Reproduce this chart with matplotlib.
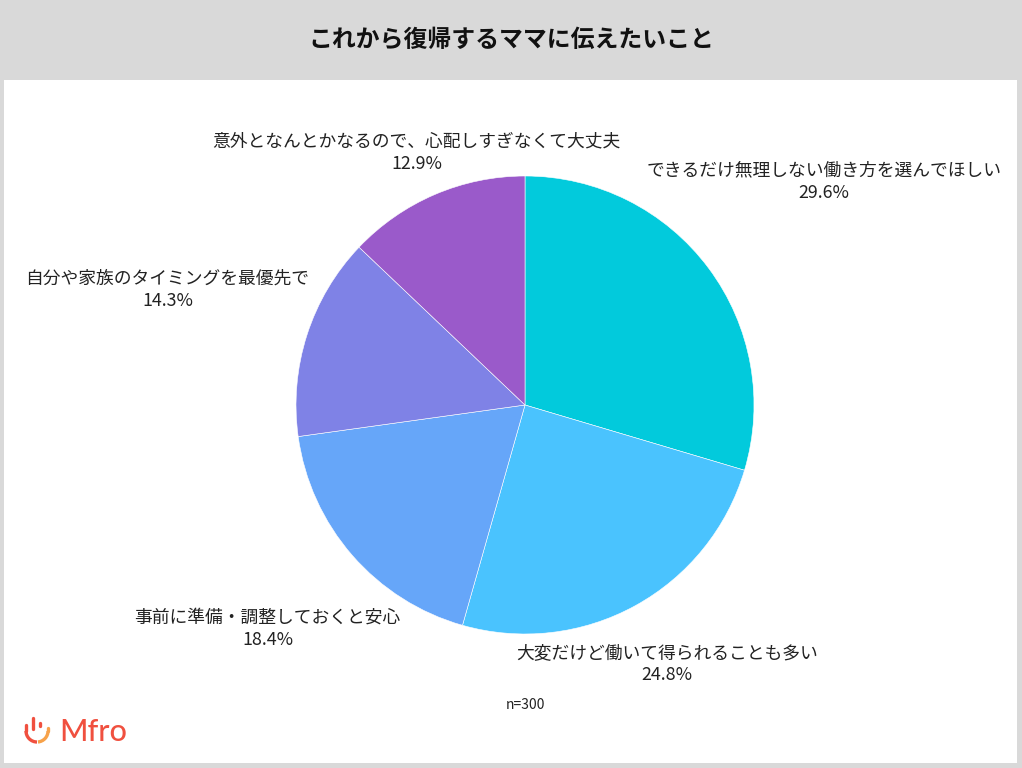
import numpy as np
import matplotlib
matplotlib.use('Agg')
import matplotlib.pyplot as plt
from matplotlib.patches import Rectangle, Arc

plt.rcParams['font.family'] = ['Noto Sans CJK JP', 'DejaVu Sans']

title = 'これから復帰するママに伝えたいこと'
labels = [
    'できるだけ無理しない働き方を選んでほしい',
    '大変だけど働いて得られることも多い',
    '事前に準備・調整しておくと安心',
    '自分や家族のタイミングを最優先で',
    '意外となんとかなるので、心配しすぎなくて大丈夫',
]
shares = [29.6, 24.8, 18.4, 14.3, 12.9]
colors = ['#02CADC', '#4AC3FE', '#66A6F9', '#7F82E6', '#9A5ACA']
n_note = 'n=300'

# label distance from centre, in pie radii (layout only)
label_dist = [1.63, 1.29, 1.49, 1.64, 1.20]

W, H = 1022, 768
fig = plt.figure(figsize=(W / 100, H / 100), dpi=100)
fig.patch.set_facecolor('#d9d9d9')
ax = fig.add_axes([0, 0, 1, 1])

# white panel under the title band
ax.add_patch(Rectangle((4, 5), 1013, 683, facecolor='white', edgecolor='none', zorder=0))
ax.text(511, H - 40, title, ha='center', va='center', fontsize=17.2, fontweight='bold', color='#111111')

cx, cy, r = 525, H - 405, 229
wedges, _ = ax.pie(shares, colors=colors, startangle=90, counterclock=False,
                   center=(cx, cy), radius=r, frame=True,
                   wedgeprops=dict(edgecolor='white', linewidth=0.4))
ax.set_xlim(0, W)
ax.set_ylim(0, H)
ax.axis('off')

for w, lab, val, d in zip(wedges, labels, shares, label_dist):
    mid = np.deg2rad((w.theta1 + w.theta2) / 2)
    x = cx + d * r * np.cos(mid)
    y = cy + d * r * np.sin(mid)
    ax.text(x, y, f'{lab}\n{val}%', ha='center', va='center', fontsize=12.8,
            color='#222222', linespacing=1.3)

ax.text(525, H - 705, n_note, ha='center', va='center', fontsize=10, color='#222222')

# Mfro logo
red = '#F0503F'
orange = '#F7A24A'
ax.add_patch(Arc((37, H - 731), 22, 22, theta1=180, theta2=270, color=red, lw=2.4))
ax.plot([26, 26], [H - 731, H - 725], color=red, lw=2.4, solid_capstyle='round')
ax.plot([33, 33], [H - 729, H - 718], color=red, lw=2.4, solid_capstyle='round')
ax.plot([40, 40], [H - 726, H - 723], color=red, lw=2.4, solid_capstyle='round')
ax.add_patch(Arc((37, H - 731), 22, 22, theta1=275, theta2=360, color=orange, lw=2.4))
ax.plot([48, 48], [H - 731, H - 728], color=orange, lw=2.4, solid_capstyle='round')
ax.text(59, H - 732, 'Mfro', ha='left', va='center', fontsize=22, color=red,
        family=['Lato', 'DejaVu Sans'], fontweight='medium')

fig.savefig('out.png', dpi=100, facecolor=fig.get_facecolor())
